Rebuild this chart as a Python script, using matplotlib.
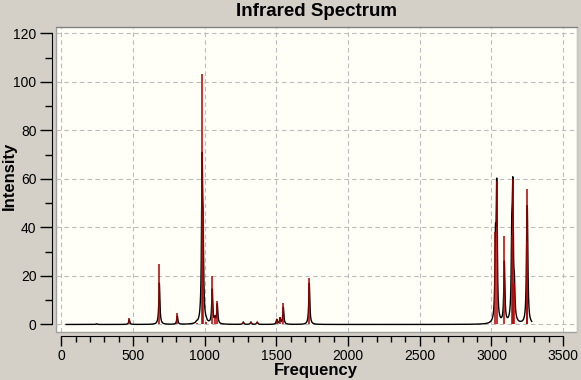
import numpy as np
import matplotlib
matplotlib.use('Agg')
import matplotlib.pyplot as plt
from matplotlib.ticker import MultipleLocator

# stick spectrum: frequency (cm-1) and intensity
freqs = [245, 473, 683, 808, 943, 981, 988, 1010, 1052, 1071, 1087,
         1269, 1322, 1366, 1502, 1525, 1548, 1729,
         3028, 3037, 3090, 3142, 3149, 3160, 3247, 3251]
intensities = [0.3, 2.5, 24.9, 4.6, 0.8, 103.4, 46.0, 1.0, 20.0, 3.0, 9.7,
               1.2, 1.2, 1.2, 2.4, 3.0, 8.7, 19.0,
               38.0, 59.2, 36.4, 37.0, 59.9, 17.0, 34.0, 56.0]
# heights of the broadened (black) curve contributions
curve_heights = [0.3, 2.0, 17.0, 3.5, 0.5, 62.0, 30.0, 0.5, 14.0, 2.0, 8.0,
                 1.0, 1.0, 1.0, 2.0, 2.5, 7.0, 17.0,
                 30.0, 54.0, 25.0, 30.0, 50.0, 12.0, 25.0, 33.0]
xticks = [0, 500, 1000, 1500, 2000, 2500, 3000, 3500]
yticks = [0, 20, 40, 60, 80, 100, 120]

HWHM = 4.5
BG = '#d4d0c8'
W, H = 581, 380

plt.rcParams['font.family'] = ['Liberation Sans', 'DejaVu Sans']

fig = plt.figure(figsize=(W / 100, H / 100), dpi=100, facecolor=BG)
ax = fig.add_axes([56 / W, 48 / H, 521 / W, 305 / H])
ax.set_facecolor('#fffff8')

f = np.arange(33, 3282, 1.0)
curve = np.zeros_like(f)
for f0, h in zip(freqs, curve_heights):
    curve += h * HWHM ** 2 / ((f - f0) ** 2 + HWHM ** 2)

ax.grid(True, color='#bcbcbc', linestyle=(0, (4, 3)), linewidth=0.8)
ax.set_axisbelow(True)
ax.plot(f, curve, color='black', linewidth=1.0, zorder=3)
ax.vlines(freqs, 0, intensities, color='#b00000', linewidth=1.1, zorder=4)

ax.set_xlim(-38, 3597)
ax.set_ylim(-3.1, 122.6)
ax.set_xticks(xticks)
ax.set_yticks(yticks)
ax.xaxis.set_minor_locator(MultipleLocator(100))
ax.yaxis.set_minor_locator(MultipleLocator(10))

ax.spines['left'].set_position(('outward', 3))
ax.spines['left'].set_bounds(0, 120)
ax.spines['bottom'].set_position(('outward', 3))
ax.spines['bottom'].set_bounds(0, 3500)
ax.spines['top'].set_color('#808080')
ax.spines['right'].set_color('#c8c8c8')
ax.patch.set_edgecolor('#a0a0a0')
ax.patch.set_linewidth(1.0)

ax.tick_params(axis='y', which='major', length=9, width=1, pad=2, labelsize=10)
ax.tick_params(axis='y', which='minor', length=5, width=1)
ax.tick_params(axis='x', which='major', length=7, width=1, pad=2, labelsize=10)
ax.tick_params(axis='x', which='minor', length=4, width=1)

fig.text(316 / W, 1 - 12 / H, 'Infrared Spectrum', fontsize=13.5,
         fontweight='bold', ha='center', va='center')
fig.text(316 / W, 1 - 371 / H, 'Frequency', fontsize=12,
         fontweight='bold', ha='center', va='center')
fig.text(9 / W, 1 - 176 / H, 'Intensity', fontsize=12, fontweight='bold',
         ha='center', va='center', rotation=90)

fig.savefig('out.png', dpi=100, facecolor=BG)
